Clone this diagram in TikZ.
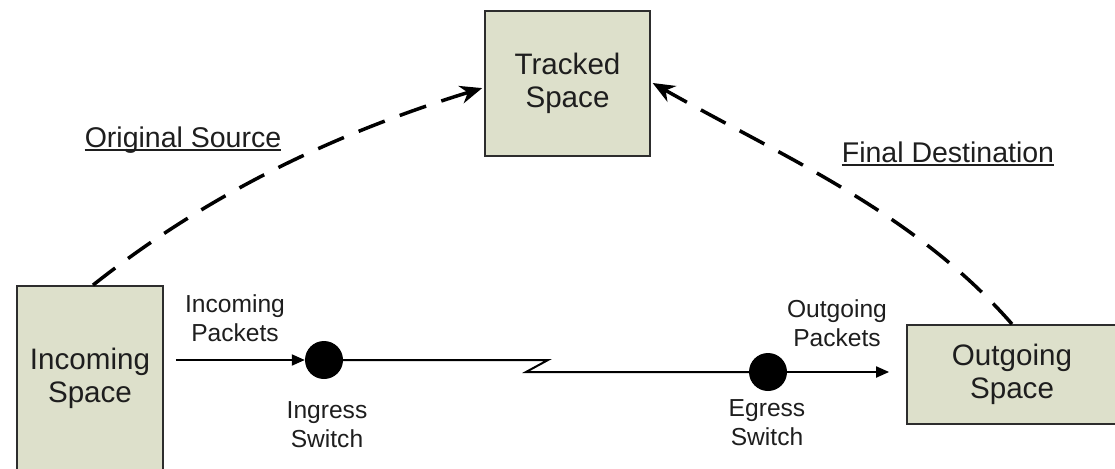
\documentclass[tikz,border=0pt]{standalone}
\usepackage{fontspec}
\setmainfont{Liberation Sans}
\usetikzlibrary{arrows.meta}
\definecolor{boxfill}{RGB}{221,224,203}
\definecolor{ink}{RGB}{30,30,30}
\definecolor{edge}{RGB}{45,45,45}
\begin{document}
\begin{tikzpicture}[x=1pt,y=-1pt,
  space/.style={draw=edge, line width=1.8pt, fill=boxfill, text=ink, align=center,
    font=\fontsize{29.6}{33}\selectfont, inner sep=0pt},
  switchnode/.style={circle, fill=black, minimum size=38pt, inner sep=0pt},
  small/.style={text=ink, align=center, font=\fontsize{24.6}{29}\selectfont, inner sep=0pt},
  biglabel/.style={text=ink, font=\fontsize{28.5}{33}\selectfont, inner sep=0pt},
  flow/.style={line width=2pt, draw=black},
  flowarrow/.style={flow, -{Triangle[length=13pt,width=11pt]}},
  track/.style={line width=3.5pt, draw=black, dash pattern=on 28pt off 16pt,
    -{Stealth[length=22pt,width=18pt,inset=7pt]}},
]
\useasboundingbox (0,0) rectangle (1115,468);
\clip (0,0) rectangle (1115,468);
\fill[white] (0,0) rectangle (1115,468);

% boxes
\node[space, minimum width=146pt, minimum height=184pt] (inc) at (90,378) {Incoming\\Space};
\node[space, minimum width=210pt, minimum height=99pt] (out) at (1012,374.5) {Outgoing\\Space};
\node[space, minimum width=165pt, minimum height=145pt] (trk) at (567.5,83.5) {Tracked\\Space};

% switches
\node[switchnode] (ing) at (324,360) {};
\node[switchnode] (egr) at (768,372) {};
\coordinate (zzA) at (548,360);
\coordinate (zzB) at (526,372);

% small labels
\node[small] (inpk) at (235,318.5) {Incoming\\Packets};
\node[small] (outpk) at (837,323) {Outgoing\\Packets};
\node[small] (inglab) at (327,425) {Ingress\\Switch};
\node[small] (egrlab) at (767,423) {Egress\\Switch};

% underlined labels
\node[biglabel, anchor=base] (orig) at (183,147) {Original Source};
\node[biglabel, anchor=base] (fin) at (948,162) {Final Destination};
\draw[line width=2pt, ink] ([yshift=-3pt]orig.base west) -- ([yshift=-3pt]orig.base east);
\draw[line width=2pt, ink] ([yshift=-3pt]fin.base west) -- ([yshift=-3pt]fin.base east);

% packet flow
\draw[flowarrow, shorten <=12pt] (inc.east |- ing) -- (ing.west);
\draw[flow] (ing.east) -- (zzA) -- (zzB) -- (egr.west);
\draw[flowarrow, shorten >=17pt] (egr.east) -- (out.west |- egr);

% tracking curves
\draw[track, shorten >=2pt] ([xshift=3pt]inc.north) .. controls (213,190) and (340,132) .. ([yshift=-4pt]trk.west);
\draw[track, shorten >=2pt] (out.north) .. controls (914,212) and (783,157) .. ([yshift=1.5pt]trk.east);
\end{tikzpicture}
\end{document}
